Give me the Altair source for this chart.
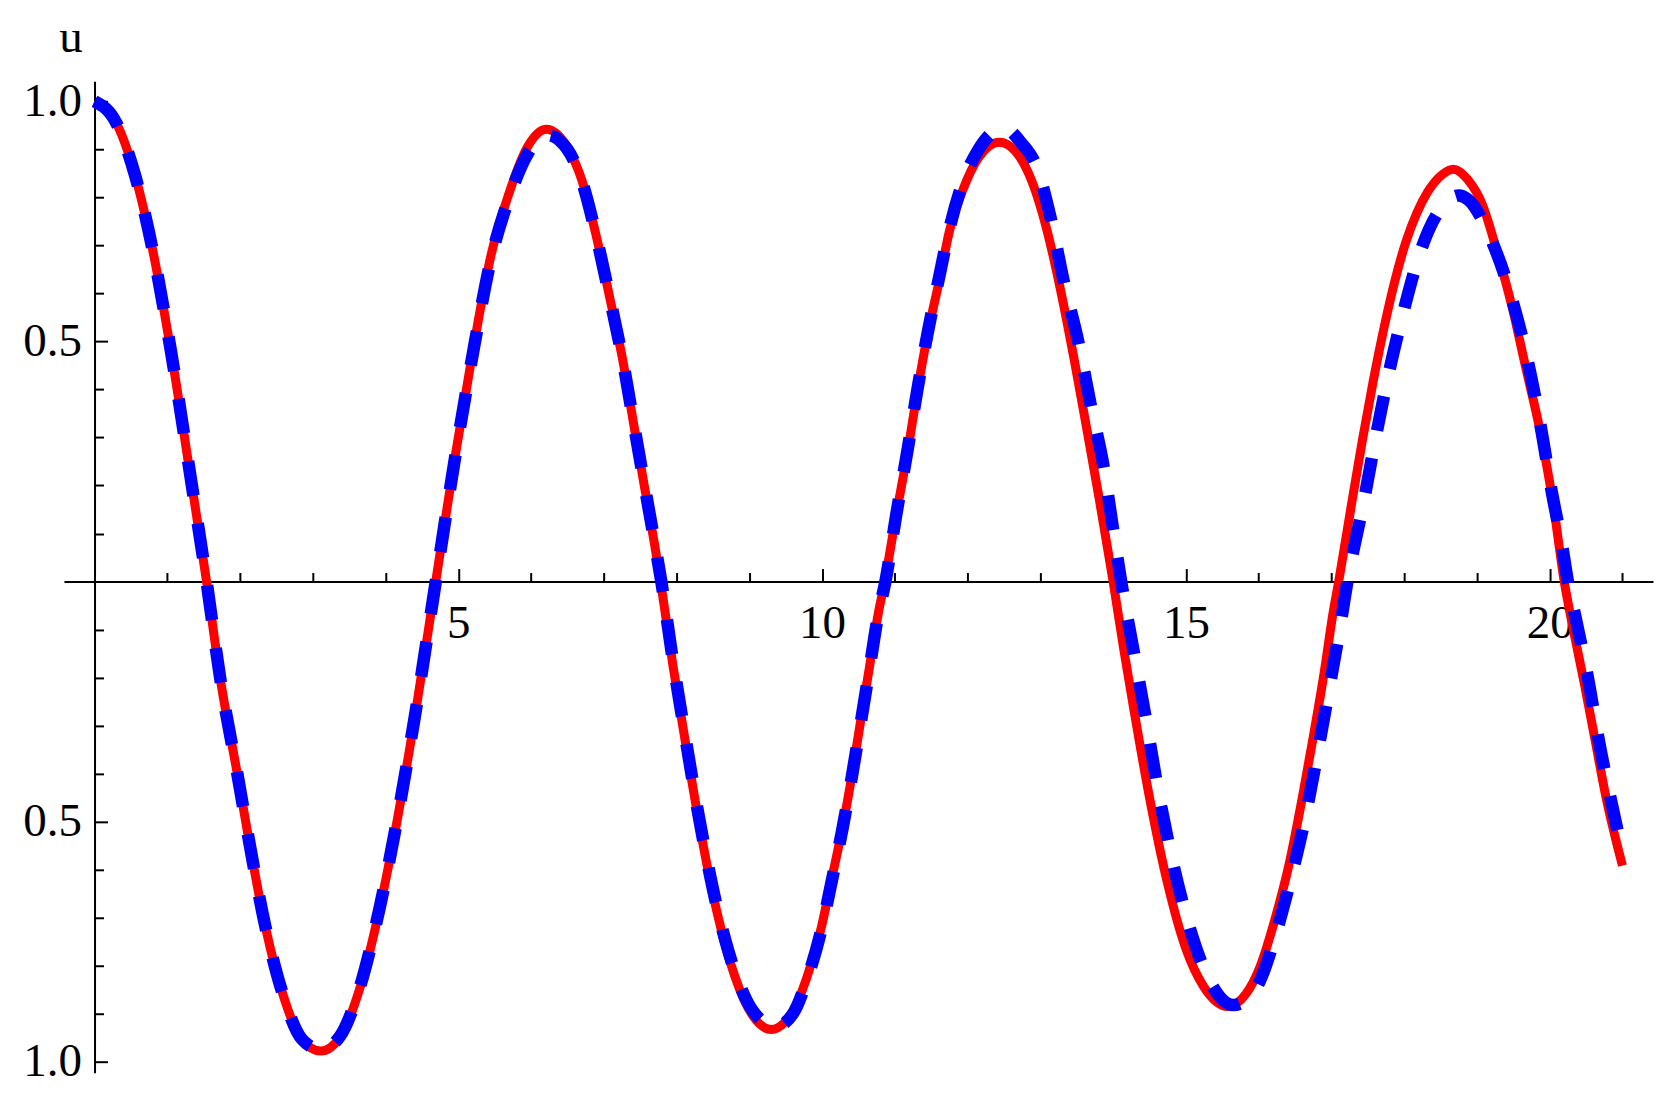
import altair as alt
import pandas as pd

# ---- data ----
red_t = [0.0, 0.3, 0.55, 0.8, 1.05, 1.328, 1.54,
         1.726, 1.98, 2.106, 2.35, 2.6, 2.85, 3.11,
         3.37, 3.62, 3.87, 4.12, 4.4, 4.69,
         4.95, 5.2, 5.45, 5.7, 5.95, 6.21,
         6.5, 6.7, 6.9, 7.09, 7.27, 7.41, 7.56, 7.70, 7.78,
         7.95, 8.1, 8.3, 8.55, 8.8, 9.05, 9.30,
         9.6, 9.79, 9.99, 10.135, 10.28, 10.405, 10.53, 10.65, 10.77, 10.86,
         11.02, 11.17, 11.31, 11.46, 11.61, 11.75, 11.93, 12.15, 12.44,
         12.69, 12.88, 13.08, 13.27, 13.47, 13.62, 13.8, 14.0,
         14.15, 14.3, 14.5, 14.75, 15.0, 15.25, 15.575,
         15.825, 16.025, 16.225, 16.425, 16.6, 16.75, 16.9, 17.025, 17.1,
         17.275, 17.425, 17.575, 17.725, 17.875, 18.025, 18.175, 18.325, 18.525, 18.675,
         18.875, 19.075, 19.275, 19.475, 19.675, 19.875, 20.05, 20.2,
         20.325, 20.475, 20.625, 20.775, 21.0]
red_u = [1.0, 0.955, 0.85, 0.69, 0.48, 0.21, 0.0,
         -0.2, -0.415, -0.525, -0.72, -0.865, -0.955, -0.978,
         -0.95, -0.86, -0.715, -0.53, -0.285, 0.0,
         0.255, 0.48, 0.68, 0.81, 0.905, 0.942,
         0.904, 0.835, 0.717, 0.585, 0.453, 0.328, 0.196, 0.075, 0.0,
         -0.175, -0.315, -0.495, -0.685, -0.822, -0.905, -0.933,
         -0.894, -0.825, -0.72, -0.617, -0.5125, -0.408, -0.29, -0.179, -0.068, 0.0,
         0.14, 0.265, 0.397, 0.522, 0.626, 0.73, 0.814, 0.883, 0.915,
         0.89, 0.835, 0.738, 0.6125, 0.458, 0.333, 0.18, 0.0,
         -0.145, -0.28, -0.45, -0.63, -0.765, -0.845, -0.885,
         -0.859, -0.8, -0.703, -0.584, -0.45, -0.324, -0.19, -0.063, 0.0,
         0.16, 0.294, 0.418, 0.53, 0.628, 0.708, 0.768, 0.812, 0.848, 0.859,
         0.837, 0.785, 0.688, 0.577, 0.443, 0.309, 0.16, 0.0,
         -0.1, -0.212, -0.331, -0.45, -0.5915]

blue_t = [0.0, 0.3, 0.55, 0.8, 1.05, 1.328, 1.54,
          1.726, 1.98, 2.106, 2.35, 2.6, 2.85, 3.11,
          3.37, 3.62, 3.87, 4.12, 4.4, 4.69,
          4.95, 5.2, 5.45, 5.7, 5.95, 6.22,
          6.5, 6.7, 6.9, 7.09, 7.27, 7.41, 7.56, 7.70, 7.79,
          7.95, 8.1, 8.3, 8.55, 8.8, 9.05, 9.36,
          9.6, 9.79, 9.99, 10.135, 10.28, 10.405, 10.53, 10.65, 10.77, 10.87,
          11.02, 11.17, 11.31, 11.46, 11.61, 11.75, 11.93, 12.15, 12.3, 12.5,
          12.73, 12.96, 13.14, 13.32, 13.52, 13.69, 13.875, 14.0, 14.11,
          14.3, 14.45, 14.6, 14.775, 14.975, 15.25, 15.65,
          15.9, 16.05, 16.225, 16.45, 16.65, 16.815, 16.975, 17.125, 17.22,
          17.45, 17.61, 17.785, 17.99, 18.225, 18.45, 18.575, 18.75,
          18.875, 19.2, 19.49, 19.7, 19.875, 20.025, 20.175, 20.25,
          20.35, 20.525, 20.675, 20.85, 21.0]
blue_u = [1.0, 0.955, 0.85, 0.69, 0.48, 0.21, 0.0,
          -0.2, -0.415, -0.525, -0.72, -0.865, -0.953, -0.975,
          -0.948, -0.858, -0.713, -0.528, -0.283, 0.0,
          0.253, 0.475, 0.672, 0.8, 0.89, 0.93,
          0.9, 0.833, 0.717, 0.585, 0.453, 0.33, 0.2, 0.08, 0.0,
          -0.165, -0.305, -0.485, -0.675, -0.812, -0.895, -0.927,
          -0.9, -0.83, -0.725, -0.622, -0.515, -0.41, -0.295, -0.183, -0.07, 0.0,
          0.14, 0.27, 0.4, 0.525, 0.635, 0.735, 0.83, 0.9, 0.93, 0.945,
          0.915, 0.859, 0.758, 0.626, 0.5, 0.369, 0.234, 0.108, 0.0,
          -0.16, -0.286, -0.42, -0.554, -0.68, -0.807, -0.882,
          -0.862, -0.82, -0.74, -0.614, -0.484, -0.353, -0.219, -0.089, 0.0,
          0.171, 0.301, 0.4315, 0.562, 0.688, 0.765, 0.789, 0.804,
          0.796, 0.711, 0.584, 0.458, 0.324, 0.19, 0.071, 0.0,
          -0.071, -0.2, -0.331, -0.461, -0.565]

x_ticks = list(range(1, 22))
y_ticks = [-1.0, -0.9, -0.8, -0.7, -0.6, -0.5, -0.4, -0.3, -0.2, -0.1,
           0.1, 0.2, 0.3, 0.4, 0.5, 0.6, 0.7, 0.8, 0.9, 1.0]
y_title = "u"

# ---- layout / style ----
X_DOMAIN = [-0.42, 21.42]
Y_DOMAIN = [-1.023, 1.042]
W, H = 1590, 992
FONT = "Liberation Serif"
FS = 47

x_zero_px = W * (0 - X_DOMAIN[0]) / (X_DOMAIN[1] - X_DOMAIN[0])
y_zero_px = H * (Y_DOMAIN[1] - 0) / (Y_DOMAIN[1] - Y_DOMAIN[0])

df = pd.concat([
    pd.DataFrame({"t": red_t, "u": red_u, "s": "red"}),
    pd.DataFrame({"t": blue_t, "u": blue_u, "s": "blue"}),
])

y_major = "(abs(abs(datum.value) - 0.5) < 0.001 || abs(abs(datum.value) - 1) < 0.001)"

x_axis = alt.Axis(
    orient="top",
    offset=-y_zero_px,
    values=x_ticks,
    grid=False,
    domainColor="black", domainWidth=2,
    tickColor="black", tickWidth=2,
    tickSize={"condition": {"test": "datum.value % 5 === 0", "value": 13}, "value": 9},
    labelExpr="datum.value % 5 === 0 ? format(datum.value, 'd') : ''",
    labelFont=FONT, labelFontSize=FS, labelColor="black",
    labelBaseline="alphabetic", labelAlign="center",
    labelPadding=-69,
    labelOverlap=False, labelFlush=False,
    title="",
)

y_axis = alt.Axis(
    orient="right",
    offset=-(W - x_zero_px),
    values=y_ticks,
    grid=False,
    domainColor="black", domainWidth=2,
    tickColor="black", tickWidth=2,
    tickSize={"condition": {"test": y_major, "value": 13}, "value": 9},
    labelExpr=y_major + " ? format(abs(datum.value), '.1f') : ''",
    labelFont=FONT, labelFontSize=FS, labelColor="black",
    labelAlign="right", labelBaseline="middle",
    labelPadding=-26,
    labelOverlap=False, labelFlush=False,
    title=y_title, titleAngle=0, titleX=-24, titleY=-30,
    titleAlign="center", titleBaseline="alphabetic",
    titleFont=FONT, titleFontSize=FS, titleFontWeight="normal", titleColor="black",
)

base = alt.Chart(df).encode(
    x=alt.X("t:Q", scale=alt.Scale(domain=X_DOMAIN, nice=False, zero=False), axis=x_axis),
    y=alt.Y("u:Q", scale=alt.Scale(domain=Y_DOMAIN, nice=False, zero=False), axis=y_axis),
)

red = base.transform_filter(alt.datum.s == "red").mark_line(
    color="#ff0000", strokeWidth=9, interpolate="monotone")
blue = base.transform_filter(alt.datum.s == "blue").mark_line(
    color="#0000ff", strokeWidth=12.5, strokeDash=[35, 28], interpolate="monotone")

chart = alt.layer(red, blue).properties(
    width=W, height=H,
    autosize=alt.AutoSizeParams(type="none"),
    padding={"left": 56, "top": 73, "right": 10, "bottom": 16},
    background="white",
).configure_view(stroke="transparent")

chart.save("out.html", embed_options={"renderer": "svg", "actions": False})
